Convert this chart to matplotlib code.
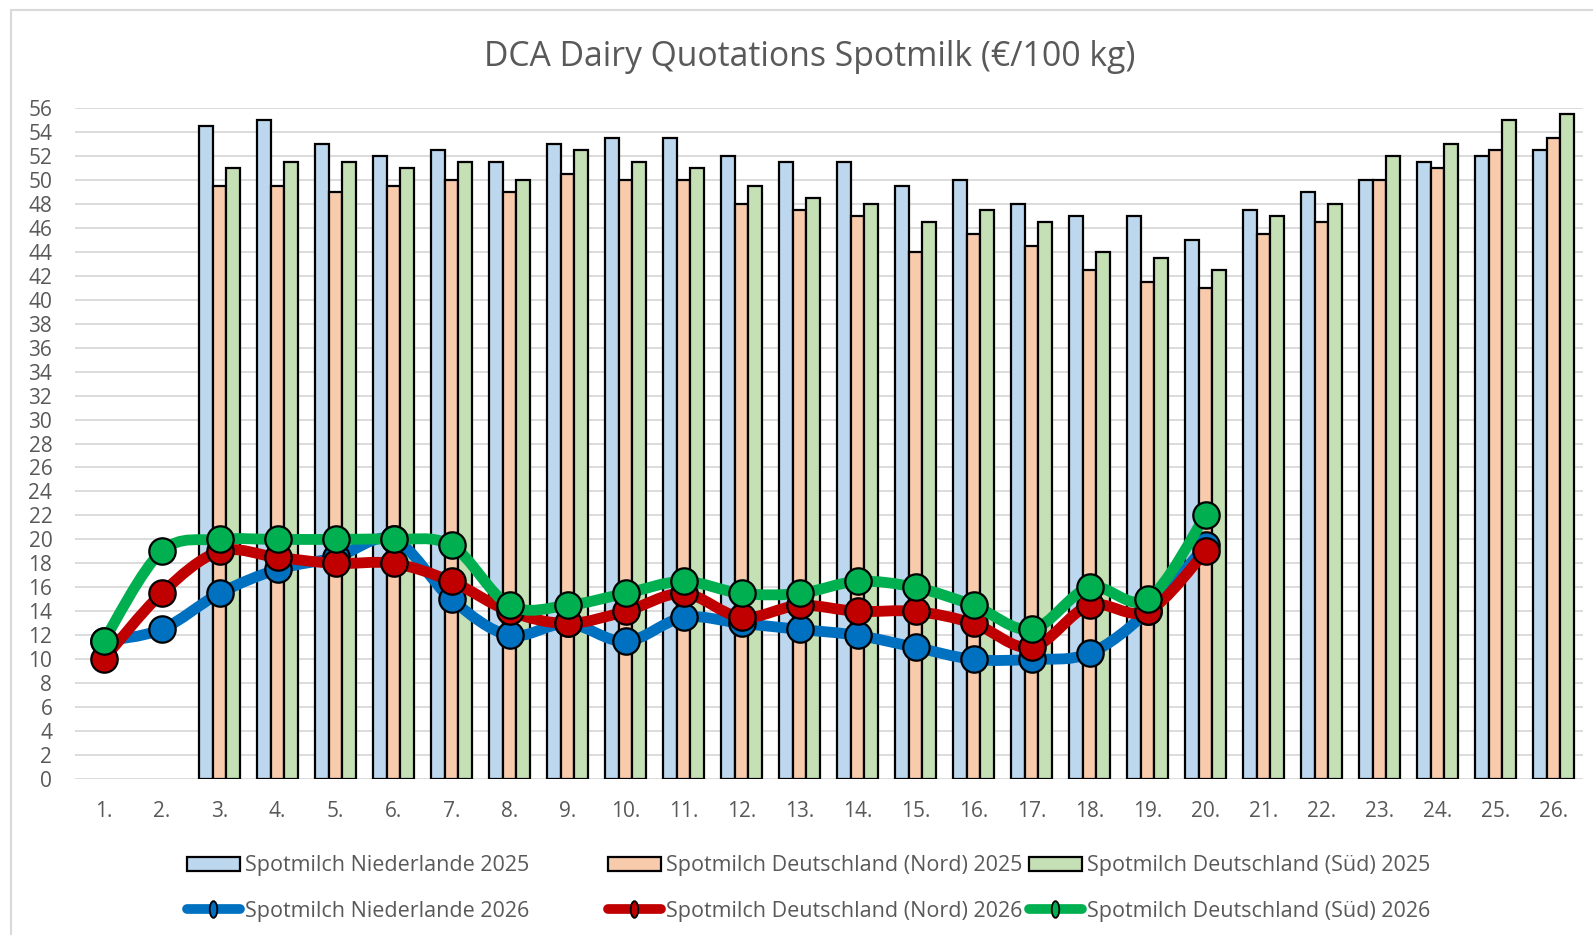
import numpy as np
import matplotlib
matplotlib.use("Agg")
import matplotlib.pyplot as plt
from matplotlib.path import Path
from matplotlib.patches import PathPatch, Patch, Rectangle
from matplotlib.lines import Line2D
from matplotlib.markers import MarkerStyle
from matplotlib.transforms import Affine2D

# ---------------- data ----------------
weeks = [f"{i}." for i in range(1, 27)]
nan = np.nan
nl_2025 = [nan, nan, 54.5, 55, 53, 52, 52.5, 51.5, 53, 53.5, 53.5, 52, 51.5, 51.5,
           49.5, 50, 48, 47, 47, 45, 47.5, 49, 50, 51.5, 52, 52.5]
nord_2025 = [nan, nan, 49.5, 49.5, 49, 49.5, 50, 49, 50.5, 50, 50, 48, 47.5, 47,
             44, 45.5, 44.5, 42.5, 41.5, 41, 45.5, 46.5, 50, 51, 52.5, 53.5]
sued_2025 = [nan, nan, 51, 51.5, 51.5, 51, 51.5, 50, 52.5, 51.5, 51, 49.5, 48.5, 48,
             46.5, 47.5, 46.5, 44, 43.5, 42.5, 47, 48, 52, 53, 55, 55.5]
nl_2026 = [11.5, 12.5, 15.5, 17.5, 18.5, 20, 15, 12, 13, 11.5, 13.5, 13, 12.5, 12,
           11, 10, 10, 10.5, 14, 19.5]
nord_2026 = [10, 15.5, 19, 18.5, 18, 18, 16.5, 14, 13, 14, 15.5, 13.5, 14.5, 14,
             14, 13, 11, 14.5, 14, 19]
sued_2026 = [11.5, 19, 20, 20, 20, 20, 19.5, 14.5, 14.5, 15.5, 16.5, 15.5, 15.5, 16.5,
             16, 14.5, 12.5, 16, 15, 22]
yticks = list(range(0, 57, 2))

bar_labels = ["Spotmilch Niederlande 2025", "Spotmilch Deutschland (Nord) 2025",
              "Spotmilch Deutschland (Süd) 2025"]
line_labels = ["Spotmilch Niederlande 2026", "Spotmilch Deutschland (Nord) 2026",
               "Spotmilch Deutschland (Süd) 2026"]
title = "DCA Dairy Quotations Spotmilk (€/100 kg)"

# ---------------- style ----------------
FONT = ["Open Sans", "DejaVu Sans"]
plt.rcParams["font.family"] = FONT
TXT = "#595959"
bar_colors = ["#BDD7EE", "#F8CBAD", "#C5E0B4"]
line_colors = ["#0070C0", "#C00000", "#00B050"]

W, H = 1593, 935
fig = plt.figure(figsize=(W / 100, H / 100), dpi=100)
ax = fig.add_axes([74.5 / W, 1 - 779.3 / H, (1582.5 - 74.5) / W, (779.3 - 107.7) / H])

x = np.arange(1, len(weeks) + 1)
bw = 0.23
for k, (vals, col) in enumerate(zip([nl_2025, nord_2025, sued_2025], bar_colors)):
    ax.bar(x + (k - 1) * bw, vals, width=bw, color=col, edgecolor="black",
           linewidth=1.6, zorder=2)


def smooth_path(xs, ys):
    pts = np.column_stack([xs, ys]).astype(float)
    n = len(pts)
    verts = [pts[0]]
    codes = [Path.MOVETO]
    for i in range(n - 1):
        p0 = pts[i - 1] if i > 0 else pts[i]
        p1 = pts[i]
        p2 = pts[i + 1]
        p3 = pts[i + 2] if i + 2 < n else pts[i + 1]
        c1 = p1 + (p2 - p0) / 6.0
        c2 = p2 - (p3 - p1) / 6.0
        verts += [c1, c2, p2]
        codes += [Path.CURVE4] * 3
    return Path(verts, codes)


z = 5
for vals, col in zip([nl_2026, nord_2026, sued_2026], line_colors):
    xs = x[:len(vals)]
    pp = PathPatch(smooth_path(xs, vals), fill=False, edgecolor=col, linewidth=7.8,
                   capstyle="round", joinstyle="round", zorder=z)
    ax.add_patch(pp)
    ax.plot(xs, vals, linestyle="none", marker="o", markersize=19,
            markerfacecolor=col, markeredgecolor="black", markeredgewidth=1.6, zorder=z + 1)
    z += 2

ax.set_xlim(0.5, len(weeks) + 0.5)
ax.set_ylim(0, 56)
ax.set_xticks(x)
ax.set_xticklabels(weeks)
ax.set_yticks(yticks)
ax.tick_params(axis="both", length=0, labelsize=15, labelcolor=TXT)
ax.tick_params(axis="y", pad=16)
ax.tick_params(axis="x", pad=15.5)
ax.grid(axis="y", color="#D9D9D9", linewidth=1.3, zorder=0)
ax.set_axisbelow(True)
for s in ax.spines.values():
    s.set_visible(False)

# title
fig.text(810 / W, 1 - 57 / H, title, ha="center", va="center", fontsize=24.3, color=TXT)

# border
fig.add_artist(Rectangle((11 / W, -0.02), 1.1, 1 - 10 / H + 0.02, transform=fig.transFigure,
                         fill=False, edgecolor="#D9D9D9", linewidth=1.5))

# legends (one per entry, placed manually)
ell = MarkerStyle(Path.unit_circle().transformed(Affine2D().scale(0.45, 1.0)))
col_x = [187, 608, 1029]
row_y = [866, 911]
for i in range(3):
    hb = Patch(facecolor=bar_colors[i], edgecolor="black", linewidth=1.6)
    hl = Line2D([], [], color=line_colors[i], linewidth=7, solid_capstyle="round",
                marker=ell, markersize=12, markerfacecolor=line_colors[i],
                markeredgecolor="black", markeredgewidth=1.3)
    for h, lab, yy in [(hb, bar_labels[i], row_y[0]), (hl, line_labels[i], row_y[1])]:
        fig.legend([h], [lab], loc="center left",
                   bbox_to_anchor=(col_x[i] / W, 1 - yy / H),
                   frameon=False, fontsize=15.5, labelcolor=TXT, borderpad=0,
                   borderaxespad=0, handlelength=2.45, handleheight=0.6,
                   handletextpad=0.25)

fig.savefig("out.png", dpi=100)
